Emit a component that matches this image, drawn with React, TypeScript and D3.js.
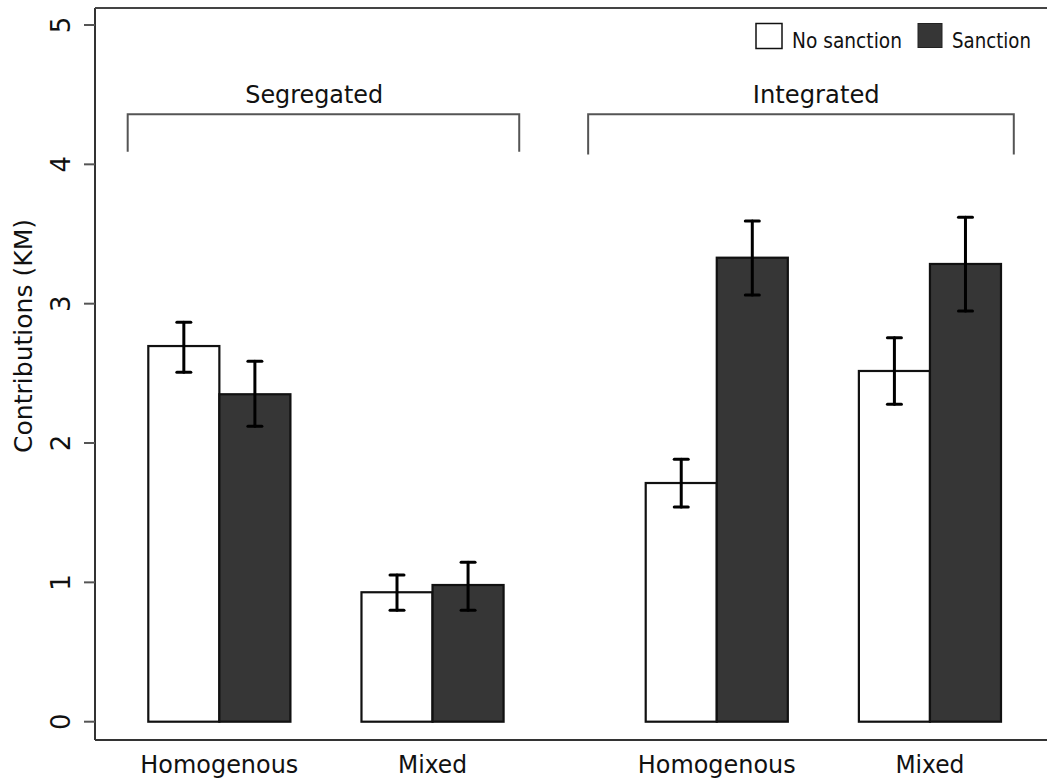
import React from "react";
import * as d3 from "d3";

// ---- data ----
const categories = ["Homogenous", "Mixed", "Homogenous", "Mixed"];
const clusters = ["Segregated", "Integrated"];
const seriesNames = ["No sanction", "Sanction"];
const noSanction = [2.696, 0.929, 1.713, 2.517];
const noSanctionLow = [2.507, 0.8, 1.54, 2.278];
const noSanctionHigh = [2.866, 1.053, 1.883, 2.756];
const sanction = [2.35, 0.981, 3.33, 3.285];
const sanctionLow = [2.12, 0.8, 3.062, 2.947];
const sanctionHigh = [2.587, 1.144, 3.593, 3.62];
const yTicks = [0, 1, 2, 3, 4, 5];

const W = 1047;
const H = 780;
const FONT = "'DejaVu Sans', sans-serif";
const DARK = "#363636";

export default function App() {
  const y = d3.scaleLinear().domain([0, 5]).range([721.7, 25]);
  // x in "bar units": each bar is one unit wide
  const x = d3.scaleLinear().domain([0, 12]).range([148.3, 1001]);
  const groupStart = (i: number) => i * 3 + (i >= 2 ? 1 : 0);

  const left = 95, top = 8, bottom = 740;

  const series = [
    { name: seriesNames[0], vals: noSanction, lo: noSanctionLow, hi: noSanctionHigh, fill: "#ffffff", off: 0 },
    { name: seriesNames[1], vals: sanction, lo: sanctionLow, hi: sanctionHigh, fill: DARK, off: 1 },
  ];

  const brackets = [
    { label: clusters[0], x0: -0.29, x1: 5.22, yb: 4.09, lx: 2.335 },
    { label: clusters[1], x0: 6.19, x1: 12.18, yb: 4.07, lx: 9.4 },
  ];
  const bracketTop = 4.36;

  return (
    <svg width={W} height={H} style={{ position: "absolute", left: 0, top: 0, background: "#fff" }} fontFamily={FONT}>
      {/* frame */}
      <line x1={left} x2={left} y1={top} y2={bottom} stroke="#333" strokeWidth={2} />
      <line x1={left} x2={W} y1={top} y2={top} stroke="#444" strokeWidth={2} />
      <line x1={left} x2={W} y1={bottom} y2={bottom} stroke="#333" strokeWidth={2} />

      {/* y ticks */}
      {yTicks.map((t) => (
        <g key={t}>
          <line x1={84} x2={left} y1={y(t)} y2={y(t)} stroke="#555" strokeWidth={2} />
          <text transform={`translate(70,${y(t)}) rotate(-90)`} textAnchor="middle" fontSize={26} fill="#111">
            {t}
          </text>
        </g>
      ))}
      <text transform={`translate(32,336) rotate(-90)`} textAnchor="middle" fontSize={25} fill="#111" textLength={234} lengthAdjust="spacingAndGlyphs">
        Contributions (KM)
      </text>

      {/* bars */}
      {series.map((s) =>
        s.vals.map((v, i) => {
          const u = groupStart(i) + s.off;
          return (
            <rect
              key={s.name + i}
              x={x(u)}
              y={y(v)}
              width={x(u + 1) - x(u)}
              height={y(0) - y(v)}
              fill={s.fill}
              stroke="#111"
              strokeWidth={2.2}
            />
          );
        })
      )}

      {/* error bars */}
      {series.map((s) =>
        s.vals.map((_, i) => {
          const cx = x(groupStart(i) + s.off + 0.5);
          return (
            <g key={"e" + s.name + i} stroke="#000" strokeWidth={3} strokeLinecap="round">
              <line x1={cx} x2={cx} y1={y(s.lo[i])} y2={y(s.hi[i])} />
              <line x1={cx - 7} x2={cx + 7} y1={y(s.lo[i])} y2={y(s.lo[i])} />
              <line x1={cx - 7} x2={cx + 7} y1={y(s.hi[i])} y2={y(s.hi[i])} />
            </g>
          );
        })
      )}

      {/* category labels */}
      {categories.map((c, i) => (
        <text key={"c" + i} x={x(groupStart(i) + 1)} y={773} textAnchor="middle" fontSize={25} fill="#111" textLength={c.length > 6 ? 158 : 69} lengthAdjust="spacingAndGlyphs">
          {c}
        </text>
      ))}

      {/* brackets */}
      {brackets.map((b) => (
        <g key={b.label}>
          <path
            d={`M${x(b.x0)},${y(b.yb)}V${y(bracketTop)}H${x(b.x1)}V${y(b.yb)}`}
            fill="none"
            stroke="#555"
            strokeWidth={2}
          />
          <text x={x(b.lx)} y={103} textAnchor="middle" fontSize={25} fill="#111" textLength={b.label === "Segregated" ? 138 : 127} lengthAdjust="spacingAndGlyphs">
            {b.label}
          </text>
        </g>
      ))}

      {/* legend */}
      <rect x={756} y={23.5} width={26} height={25} fill="#fff" stroke="#111" strokeWidth={1.5} />
      <text x={792} y={48} fontSize={22} fill="#111" textLength={110} lengthAdjust="spacingAndGlyphs">
        {seriesNames[0]}
      </text>
      <rect x={918} y={23.5} width={24} height={24} fill={DARK} stroke="#222" strokeWidth={1} />
      <text x={952} y={48} fontSize={22} fill="#111" textLength={79} lengthAdjust="spacingAndGlyphs">
        {seriesNames[1]}
      </text>
    </svg>
  );
}
